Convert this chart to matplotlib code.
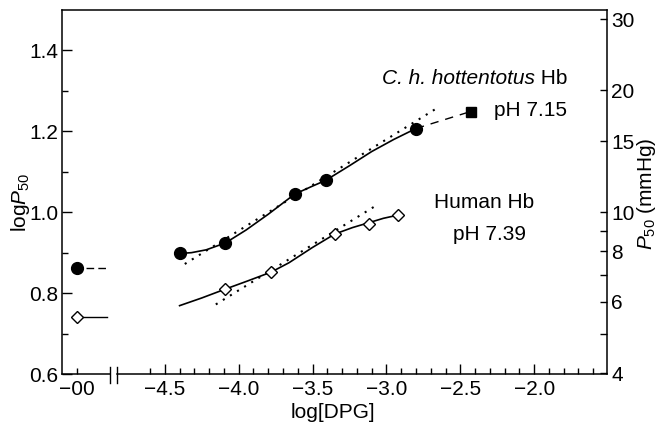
import numpy as np
import matplotlib
matplotlib.use("Agg")
import matplotlib.pyplot as plt
import matplotlib.transforms as mtransforms

plt.rcParams["font.family"] = "Liberation Sans"
plt.rcParams["mathtext.fontset"] = "custom"
plt.rcParams["mathtext.rm"] = "Liberation Sans"
plt.rcParams["mathtext.it"] = "Liberation Sans:italic"
plt.rcParams["font.size"] = 15

# C. h. hottentotus Hb, pH 7.15
hot_x = [-4.40, -4.09, -3.62, -3.41, -2.80]
hot_y = [0.898, 0.924, 1.045, 1.079, 1.207]
hot_sq_x = [-2.43]
hot_sq_y = [1.249]
hot_inf_y = 0.861
hot_curve_x = [-4.40, -4.32, -4.22, -4.09, -3.95, -3.80, -3.62, -3.51, -3.41, -3.25, -3.10, -2.95, -2.80]
hot_curve_y = [0.898, 0.900, 0.907, 0.924, 0.956, 0.995, 1.045, 1.063, 1.079, 1.115, 1.150, 1.180, 1.207]
hot_dot_x = [-4.365, -2.664]
hot_dot_y = [0.872, 1.256]

# Human Hb, pH 7.39
hum_x = [-4.09, -3.78, -3.35, -3.12, -2.92]
hum_y = [0.810, 0.852, 0.946, 0.972, 0.993]
hum_inf_y = 0.740
hum_curve_x = [-4.40, -4.25, -4.09, -3.94, -3.78, -3.66, -3.50, -3.35, -3.23, -3.12, -3.02, -2.92]
hum_curve_y = [0.769, 0.788, 0.810, 0.830, 0.852, 0.875, 0.913, 0.946, 0.962, 0.974, 0.985, 0.993]
hum_dot_x = [-4.155, -3.068]
hum_dot_y = [0.772, 1.017]

# eixo x quebrado: posicao do "-00" e da quebra
x_inf = -5.095
quebra = (-4.872, -4.824)

x_major = [-4.5, -4.0, -3.5, -3.0, -2.5, -2.0]
x_major_labels = ["\u22124.5", "\u22124.0", "\u22123.5", "\u22123.0", "\u22122.5", "\u22122.0"]
y_major = [0.6, 0.8, 1.0, 1.2, 1.4]
p50_ticks = [4, 6, 8, 10, 15, 20, 30]
p50_minor = [5, 7, 9]

fig = plt.figure(figsize=(6.57, 4.30), dpi=100)
ax = fig.add_axes([62 / 657, 56 / 430, 545 / 657, 364 / 430])

# curvas
ax.plot(hot_curve_x, hot_curve_y, color="black", lw=1.2)
ax.plot(hot_dot_x, hot_dot_y, color="black", lw=1.5, linestyle=(0, (1, 3)))
ax.plot([hot_x[-1], hot_sq_x[0]], [hot_y[-1], hot_sq_y[0]], color="black", lw=1,
        linestyle=(0, (6, 5)))
ax.plot(hum_curve_x, hum_curve_y, color="black", lw=1.2)
ax.plot(hum_dot_x, hum_dot_y, color="black", lw=1.5, linestyle=(0, (1, 3)))

# pontos em -00
ax.plot([x_inf, -4.885], [hot_inf_y, hot_inf_y], color="black", lw=1, linestyle=(2, (5.5, 3)))
ax.plot([x_inf, -4.894], [hum_inf_y, hum_inf_y], color="black", lw=1)
ax.plot([x_inf], [hot_inf_y], "o", color="black", ms=8.5, zorder=5)
ax.plot([x_inf], [hum_inf_y], "D", mfc="white", mec="black", mew=1, ms=6.3, zorder=5)

# marcadores
ax.plot(hot_x, hot_y, "o", color="black", ms=8.5, zorder=5)
ax.plot(hot_sq_x, hot_sq_y, "s", color="black", ms=7, zorder=5)
ax.plot(hum_x, hum_y, "D", mfc="white", mec="black", mew=1, ms=6.3, zorder=5)

ax.set_xlim(-5.196, -1.507)
ax.set_ylim(0.6, 1.5)

# eixo x
minor_x = [x_inf] + [round(v, 1) for v in np.arange(-4.6, -1.55, 0.1) if round(v, 1) not in x_major]
ax.set_xticks(x_major)
ax.set_xticklabels(x_major_labels)
ax.set_xticks(minor_x, minor=True)
ax.set_xticklabels(["\u221200"] + [""] * (len(minor_x) - 1), minor=True)
ax.set_yticks(y_major)
ax.set_yticklabels(["%.1f" % v for v in y_major])
ax.set_yticks([0.7, 0.9, 1.1, 1.3], minor=True)

ax.tick_params(which="both", direction="in", width=1)
ax.tick_params(which="major", length=7)
ax.tick_params(which="minor", length=4.5)
ax.tick_params(axis="x", which="both", pad=4, top=False)
ax.tick_params(axis="y", which="both", pad=2.5, right=False)

for s in ["left", "right", "top"]:
    ax.spines[s].set_linewidth(1.1)
ax.spines["bottom"].set_visible(False)

trans = mtransforms.blended_transform_factory(ax.transData, ax.transAxes)
ax.plot([-5.196, quebra[0]], [0, 0], color="black", lw=1.1, transform=trans, clip_on=False)
ax.plot([quebra[1], -1.507], [0, 0], color="black", lw=1.1, transform=trans, clip_on=False)
for q in quebra:
    ax.plot([q, q], [-0.025, 0.019], color="black", lw=1, transform=trans, clip_on=False)

# eixo direito P50
ax2 = ax.twinx()
ax2.set_ylim(ax.get_ylim())
ax2.set_yticks(np.log10(p50_ticks))
ax2.set_yticklabels([str(v) for v in p50_ticks])
ax2.set_yticks(np.log10(p50_minor), minor=True)
ax2.tick_params(which="both", direction="in", length=5, width=1, pad=3)
for s in ax2.spines.values():
    s.set_visible(False)

# textos
t_hb = ax.text(-1.777, 1.316, " Hb", ha="right", va="baseline")
fig.canvas.draw()
largura_hb = t_hb.get_window_extent().width
ax.text(-1.777, 1.316, "C. h. hottentotus", ha="right", va="baseline", style="italic",
        transform=mtransforms.offset_copy(ax.transData, fig, x=-largura_hb, units="dots"))
ax.text(-1.777, 1.237, "pH 7.15", ha="right", va="baseline")
ax.text(-2.676, 1.010, "Human Hb", ha="left", va="baseline")
ax.text(-2.547, 0.931, "pH 7.39", ha="left", va="baseline")

fig.text(20 / 657, 1 - 202 / 430, r"log$\mathit{P}_{50}$", rotation=90, ha="center", va="center")
fig.text(647 / 657, 1 - 194 / 430, r"$\mathit{P}_{50}$ (mmHg)", rotation=90, ha="center", va="center")
fig.text(333 / 657, 1 - 413 / 430, "log[DPG]", ha="center", va="center")

plt.savefig("out.png", dpi=100)
